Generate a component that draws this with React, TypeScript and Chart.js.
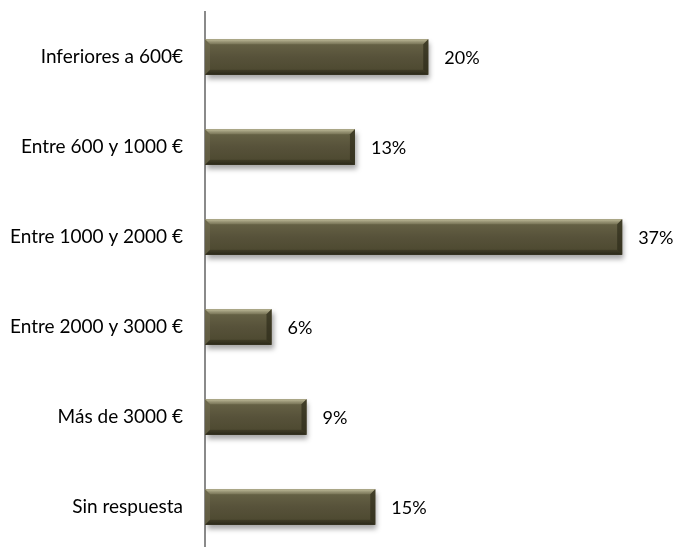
import React, { useEffect, useRef } from "react";
import { Chart, registerables } from "chart.js";

Chart.register(...registerables);

const categories = [
  "Inferiores a 600€",
  "Entre 600 y 1000 €",
  "Entre 1000 y 2000 €",
  "Entre 2000 y 3000 €",
  "Más de 3000 €",
  "Sin respuesta",
];
const values = [19.8, 13.3, 37.0, 5.9, 9.0, 15.1];
const valueLabels = ["20%", "13%", "37%", "6%", "9%", "15%"];

const FONT = "Lato, 'Open Sans', sans-serif";

const shadowPlugin = {
  id: "barShadow",
  beforeDatasetsDraw(chart: any) {
    const ctx = chart.ctx;
    ctx.save();
    ctx.shadowColor = "rgba(0,0,0,0.35)";
    ctx.shadowBlur = 5;
    ctx.shadowOffsetX = 2;
    ctx.shadowOffsetY = 4;
  },
  afterDatasetsDraw(chart: any) {
    const ctx = chart.ctx;
    ctx.restore();
    const meta = chart.getDatasetMeta(0);
    meta.data.forEach((bar: any, i: number) => {
      const p = bar.getProps(["x", "y", "base", "height"], true);
      if (![p.x, p.y, p.base, p.height].every((v: number) => Number.isFinite(v))) return;
      const left = p.base;
      const right = p.x;
      const top = p.y - p.height / 2;
      const bottom = p.y + p.height / 2;
      const b = 5;
      ctx.save();
      let g = ctx.createLinearGradient(0, top, 0, bottom);
      g.addColorStop(0, "#6a6648");
      g.addColorStop(0.5, "#57523a");
      g.addColorStop(1, "#4b472e");
      ctx.fillStyle = g;
      ctx.fillRect(left, top, right - left, bottom - top);
      g = ctx.createLinearGradient(0, top, 0, top + b);
      g.addColorStop(0, "rgba(200,196,162,0.95)");
      g.addColorStop(1, "rgba(140,136,105,0.55)");
      ctx.fillStyle = g;
      ctx.beginPath();
      ctx.moveTo(left, top);
      ctx.lineTo(right, top);
      ctx.lineTo(right - b, top + b);
      ctx.lineTo(left + b, top + b);
      ctx.closePath();
      ctx.fill();
      g = ctx.createLinearGradient(0, bottom - b, 0, bottom);
      g.addColorStop(0, "rgba(50,47,28,0.5)");
      g.addColorStop(1, "rgba(35,33,20,0.85)");
      ctx.fillStyle = g;
      ctx.beginPath();
      ctx.moveTo(left + b, bottom - b);
      ctx.lineTo(right - b, bottom - b);
      ctx.lineTo(right, bottom);
      ctx.lineTo(left, bottom);
      ctx.closePath();
      ctx.fill();
      ctx.fillStyle = "rgba(40,38,22,0.6)";
      ctx.beginPath();
      ctx.moveTo(right - b, top + b);
      ctx.lineTo(right, top);
      ctx.lineTo(right, bottom);
      ctx.lineTo(right - b, bottom - b);
      ctx.closePath();
      ctx.fill();
      ctx.fillStyle = "rgba(120,116,88,0.45)";
      ctx.beginPath();
      ctx.moveTo(left, top);
      ctx.lineTo(left + b, top + b);
      ctx.lineTo(left + b, bottom - b);
      ctx.lineTo(left, bottom);
      ctx.closePath();
      ctx.fill();
      ctx.restore();

      ctx.save();
      ctx.fillStyle = "#000000";
      ctx.font = `18px ${FONT}`;
      ctx.textAlign = "left";
      ctx.textBaseline = "middle";
      ctx.fillText(valueLabels[i], right + 16, p.y + 1);
      ctx.restore();
    });
  },
};

export default function App() {
  const ref = useRef<HTMLCanvasElement | null>(null);
  useEffect(() => {
    if (!ref.current) return;
    const chart = new Chart(ref.current, {
      type: "bar",
      data: {
        labels: categories,
        datasets: [
          {
            data: values,
            backgroundColor: "#57523a",
            borderWidth: 0,
            categoryPercentage: 1,
            barPercentage: 0.395,
          },
        ],
      },
      options: {
        indexAxis: "y",
        responsive: false,
        animation: false,
        devicePixelRatio: 1,
        layout: { padding: { top: 12, bottom: 8, right: 18, left: 0 } },
        plugins: {
          legend: { display: false },
          tooltip: { enabled: false },
        },
        scales: {
          x: {
            display: false,
            min: 0,
            max: 40,
          },
          y: {
            type: "category",
            grid: { display: false, drawTicks: false },
            border: { display: true, color: "#8a8a8a", width: 2 },
            ticks: {
              color: "#000000",
              padding: 22,
              font: { family: FONT, size: 19 },
            },
            afterFit: (scale: any) => {
              scale.width = 205;
              scale.paddingTop = 0;
              scale.paddingBottom = 0;
            },
          },
        },
      },
      plugins: [shadowPlugin],
    });
    return () => chart.destroy();
  }, []);
  return (
    <div
      style={{
        position: "fixed",
        left: 0,
        top: 0,
        width: 674,
        height: 547,
        overflow: "hidden",
        background: "#ffffff",
      }}
    >
      <canvas ref={ref} width={674} height={560} style={{ display: "block" }} />
    </div>
  );
}
